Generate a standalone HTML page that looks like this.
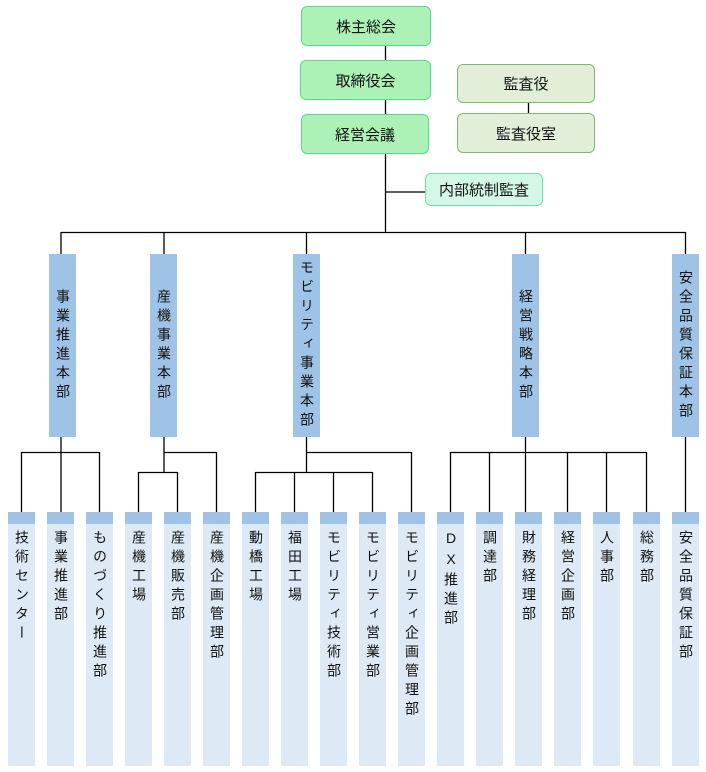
<!DOCTYPE html>
<html><head><meta charset="utf-8"><style>
body{margin:0;width:706px;height:772px;background:#fff;position:relative;overflow:hidden;font-family:"Liberation Sans","Noto Sans CJK JP",sans-serif;color:#111}
.b{position:absolute;box-sizing:border-box;display:flex;align-items:center;justify-content:center;font-size:15px;border-radius:6px}
.g{background:#acf1b6;border:1px solid #5ad98c}
.o{background:#e1efd9;border:1px solid #7fb964}
.m{background:#d4f8e6;border:1px solid #6ee0a4}
.d{position:absolute;top:254px;width:27px;height:183px;background:#9fc3e6;display:flex;align-items:center;justify-content:center}
.v{writing-mode:vertical-rl;text-orientation:upright;font-size:14px;letter-spacing:5px;line-height:27px}
.c{position:absolute;top:512px;width:27px;height:254px;background:#ddeaf6}
.c:before{content:"";position:absolute;left:0;top:0;width:27px;height:12px;background:#9fc3e6}
.c span{position:absolute;top:18px;left:0;width:27px;writing-mode:vertical-rl;text-orientation:upright;font-size:14px;letter-spacing:5px;line-height:27px}
</style></head><body>
<svg width="706" height="772" style="position:absolute;left:0;top:0" fill="none" stroke="#000" stroke-width="1.3">
<path d="M385.5 46V232M385.5 192H425M528.5 103V113M61 232.5H685.5M61 232V254M164 232V254M306.5 232V254M525.5 232V254M685.5 232V254"/>
<path d="M61 437V512M21.5 452.5H99.5M21.5 452V512M99.5 452V512"/>
<path d="M164 437V472M164 452.5H216.5M216.5 452V512M138.5 472.5H177.5M138.5 472V512M177.5 472V512"/>
<path d="M306.5 437V472M306.5 452.5H411.5M411.5 452V512M255.5 472.5H372.5M255.5 472V512M294.5 472V512M333.5 472V512M372.5 472V512"/>
<path d="M525.5 437V512M450.5 452.5H646.5M450.5 452V512M489.5 452V512M567.5 452V512M606.5 452V512M646.5 452V512"/>
<path d="M685.5 437V512"/>
</svg>
<div class="b g" style="left:301px;top:6px;width:130px;height:40px">株主総会</div>
<div class="b g" style="left:300px;top:60px;width:131px;height:40px">取締役会</div>
<div class="b g" style="left:301px;top:114px;width:128px;height:40px">経営会議</div>
<div class="b o" style="left:457px;top:64px;width:138px;height:39px">監査役</div>
<div class="b o" style="left:457px;top:113px;width:138px;height:40px">監査役室</div>
<div class="b m" style="left:425px;top:173px;width:118px;height:33px">内部統制監査</div>

<div class="d" style="left:49px"><span class="v">事業推進本部</span></div>
<div class="d" style="left:150px"><span class="v">産機事業本部</span></div>
<div class="d" style="left:293px"><span class="v">モビリティ事業本部</span></div>
<div class="d" style="left:512px"><span class="v">経営戦略本部</span></div>
<div class="d" style="left:672px"><span class="v">安全品質保証本部</span></div>

<div class="c" style="left:8px"><span>技術センター</span></div>
<div class="c" style="left:47px"><span>事業推進部</span></div>
<div class="c" style="left:86px"><span>ものづくり推進部</span></div>
<div class="c" style="left:125px"><span>産機工場</span></div>
<div class="c" style="left:164px"><span>産機販売部</span></div>
<div class="c" style="left:203px"><span>産機企画管理部</span></div>
<div class="c" style="left:242px"><span>動橋工場</span></div>
<div class="c" style="left:281px"><span>福田工場</span></div>
<div class="c" style="left:320px"><span>モビリティ技術部</span></div>
<div class="c" style="left:359px"><span>モビリティ営業部</span></div>
<div class="c" style="left:398px"><span>モビリティ企画管理部</span></div>
<div class="c" style="left:437px"><span>DX推進部</span></div>
<div class="c" style="left:476px"><span>調達部</span></div>
<div class="c" style="left:515px"><span>財務経理部</span></div>
<div class="c" style="left:554px"><span>経営企画部</span></div>
<div class="c" style="left:593px"><span>人事部</span></div>
<div class="c" style="left:633px"><span>総務部</span></div>
<div class="c" style="left:672px"><span>安全品質保証部</span></div>
</body></html>
